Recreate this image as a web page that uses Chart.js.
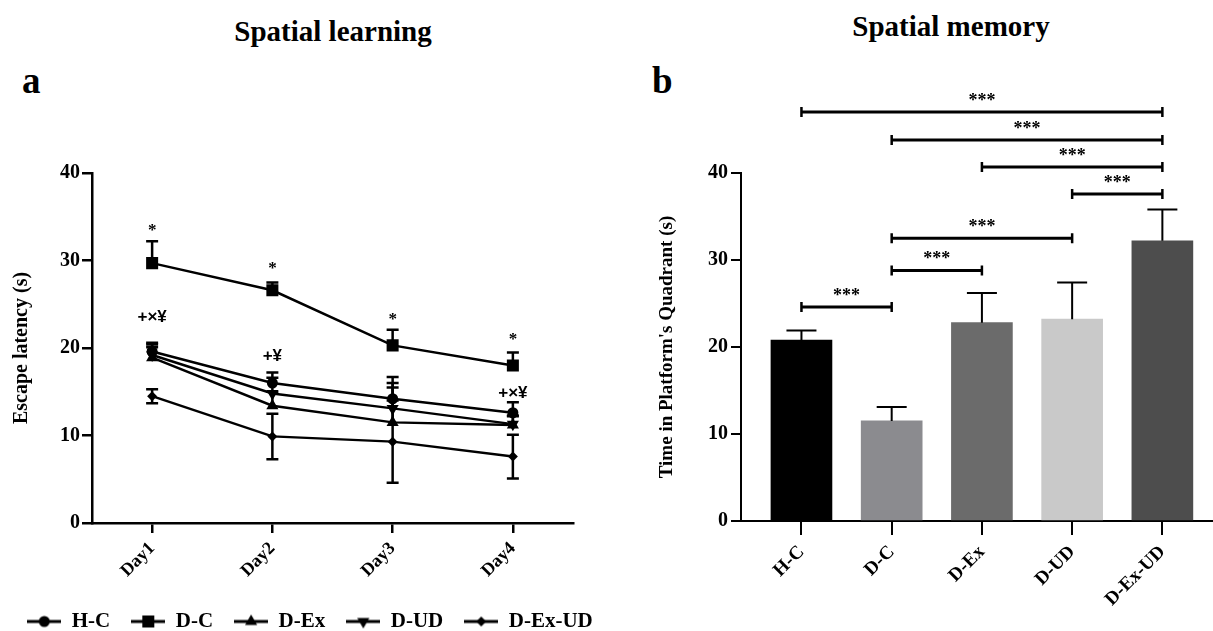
<!DOCTYPE html>
<html>
<head>
<meta charset="utf-8">
<script src="https://cdn.jsdelivr.net/npm/chart.js@4.4.1/dist/chart.umd.min.js"></script>
<style>
  html, body { margin: 0; padding: 0; background: #fff; overflow: hidden; width: 1213px; height: 631px; }
  #chartA { position: absolute; left: 0; top: 0; }
  #chartB { position: absolute; left: 640px; top: 0; }
  .lbl { position: absolute; font-family: "Liberation Serif", serif; font-weight: bold; color: #000; white-space: nowrap; line-height: 1; }
</style>
</head>
<body>
<div class="lbl" style="left:333px; top:17px; font-size:29px; transform:translateX(-50%);">Spatial learning</div>
<div class="lbl" style="left:22px; top:62px; font-size:37px;">a</div>
<div class="lbl" style="left:951px; top:12px; font-size:29px; transform:translateX(-50%);">Spatial memory</div>
<div class="lbl" style="left:652px; top:62px; font-size:37px;">b</div>
<canvas id="chartA" width="620" height="642"></canvas>
<canvas id="chartB" width="573" height="631"></canvas>
<script>
const days = ['Day1', 'Day2', 'Day3', 'Day4'];
const groups = ['H-C', 'D-C', 'D-Ex', 'D-UD', 'D-Ex-UD'];

// escape latency (s) per day
const latHC    = [19.6, 16.0, 14.2, 12.6];
const latDC    = [29.7, 26.6, 20.3, 18.0];
const latDEx   = [18.9, 13.4, 11.5, 11.2];
const latDUD   = [19.2, 14.8, 13.1, 11.3];
const latDExUD = [14.5, 9.9, 9.3, 7.6];

// error bars
const errHC    = [1.0, 1.2, 2.5, 1.2];
const errDC    = [2.5, 0.9, 1.8, 1.5];
const errDEx   = [1.2, 1.6, 4.5, 1.0];
const errDUD   = [1.2, 1.8, 2.4, 1.0];
const errDExUD = [0.8, 2.6, 4.7, 2.5];

// significance marks on the learning plot (text, and the value they sit at)
const dcMarks   = ['*', '*', '*', '*'];
const dcMarkAt  = [33.8, 29.5, 23.7, 21.4];
const grpMarks  = ['+×¥', '+¥', '', '+×¥'];
const grpMarkAt = [23.5, 19.1, null, 14.8];

// time in platform's quadrant (s)
const quadTime = [20.8, 11.5, 22.8, 23.2, 32.2];
const quadErr  = [1.1, 1.6, 3.4, 4.2, 3.6];

// pairwise comparisons on the memory plot
const sigPairs = [[0, 4], [1, 4], [2, 4], [3, 4], [1, 3], [1, 2], [0, 1]];
const sigLevel = [47.0, 43.8, 40.7, 37.6, 32.5, 28.8, 24.6];
const sigText  = ['***', '***', '***', '***', '***', '***', '***'];

const seriesVals = [latHC, latDC, latDEx, latDUD, latDExUD];
const seriesErr  = [errHC, errDC, errDEx, errDUD, errDExUD];
const bothSides  = [false, false, false, false, true];

const barColors = ['#000000', '#8b8b8f', '#6b6b6b', '#c9c9c9', '#4d4d4d'];
const markers = [
  { style: 'circle',   r: 5.5, rot: 0 },
  { style: 'rect',     r: 8.5, rot: 0 },
  { style: 'triangle', r: 7,   rot: 0 },
  { style: 'triangle', r: 7,   rot: 180 },
  { style: 'rectRot',  r: 5,   rot: 0 },
];

const serif = '"Liberation Serif", "Times New Roman", serif';
const boldFont = size => ({ family: serif, size: size, weight: 'bold' });

// little line+marker pictures for the legend
function legendIcon(m) {
  let c = document.createElement('canvas');
  c.width = 34; c.height = 18;
  let g = c.getContext('2d');
  g.strokeStyle = '#000'; g.fillStyle = '#000'; g.lineWidth = 3;
  g.beginPath(); g.moveTo(0, 9); g.lineTo(34, 9); g.stroke();
  g.translate(17, 9);
  g.rotate(m.rot * Math.PI / 180);
  g.beginPath();
  let r = m.r;
  if (m.style === 'circle') {
    g.arc(0, 0, r, 0, Math.PI * 2);
  } else if (m.style === 'rect') {
    let s = r * Math.SQRT1_2;
    g.rect(-s, -s, 2 * s, 2 * s);
  } else if (m.style === 'triangle') {
    g.moveTo(0, -r);
    g.lineTo(r * 0.866, r * 0.5);
    g.lineTo(-r * 0.866, r * 0.5);
    g.closePath();
  } else {
    g.moveTo(0, -r); g.lineTo(r, 0); g.lineTo(0, r); g.lineTo(-r, 0); g.closePath();
  }
  g.fill();
  return c;
}
const icons = markers.map(legendIcon);

const lineExtras = {
  id: 'lineExtras',
  afterDatasetsDraw(chart) {
    const { ctx } = chart;
    const x = chart.scales.x, y = chart.scales.y;
    ctx.save();
    ctx.strokeStyle = '#000';
    ctx.lineWidth = 2.5;
    chart.data.datasets.forEach((ds, di) => {
      let meta = chart.getDatasetMeta(di);
      meta.data.forEach((pt, i) => {
        let v = ds.data[i], e = seriesErr[di][i];
        let top = y.getPixelForValue(v + e);
        let bot = bothSides[di] ? y.getPixelForValue(v - e) : pt.y;
        ctx.beginPath();
        ctx.moveTo(pt.x, bot); ctx.lineTo(pt.x, top);
        ctx.moveTo(pt.x - 6, top); ctx.lineTo(pt.x + 6, top);
        if (bothSides[di]) { ctx.moveTo(pt.x - 6, bot); ctx.lineTo(pt.x + 6, bot); }
        ctx.stroke();
      });
    });
    ctx.fillStyle = '#000';
    ctx.textAlign = 'center';
    days.forEach((d, i) => {
      let px = x.getPixelForValue(i);
      if (dcMarks[i]) {
        ctx.font = 'bold 17px ' + serif;
        ctx.textBaseline = 'alphabetic';
        ctx.fillText(dcMarks[i], px, y.getPixelForValue(dcMarkAt[i]) + 8);
      }
      if (grpMarks[i]) {
        ctx.font = 'bold 17px "Liberation Sans", Arial, sans-serif';
        ctx.textBaseline = 'middle';
        ctx.fillText(grpMarks[i], px, y.getPixelForValue(grpMarkAt[i]));
      }
    });
    ctx.restore();
  }
};

const barExtras = {
  id: 'barExtras',
  afterDatasetsDraw(chart) {
    const { ctx } = chart;
    const x = chart.scales.x, y = chart.scales.y;
    ctx.save();
    ctx.strokeStyle = '#000';
    // error bars, upper side only
    ctx.lineWidth = 2;
    quadTime.forEach((v, i) => {
      let px = x.getPixelForValue(i);
      let top = y.getPixelForValue(v + quadErr[i]);
      ctx.beginPath();
      ctx.moveTo(px, y.getPixelForValue(v)); ctx.lineTo(px, top);
      ctx.moveTo(px - 15, top); ctx.lineTo(px + 15, top);
      ctx.stroke();
    });
    // comparison brackets
    ctx.fillStyle = '#000';
    ctx.textAlign = 'center';
    ctx.textBaseline = 'alphabetic';
    ctx.font = 'bold 18px ' + serif;
    sigPairs.forEach((p, k) => {
      let x1 = x.getPixelForValue(p[0]), x2 = x.getPixelForValue(p[1]);
      let py = y.getPixelForValue(sigLevel[k]);
      ctx.lineWidth = 3;
      ctx.beginPath(); ctx.moveTo(x1, py); ctx.lineTo(x2, py); ctx.stroke();
      ctx.lineWidth = 2.5;
      ctx.beginPath();
      ctx.moveTo(x1, py - 5); ctx.lineTo(x1, py + 5);
      ctx.moveTo(x2, py - 5); ctx.lineTo(x2, py + 5);
      ctx.stroke();
      ctx.fillText(sigText[k], (x1 + x2) / 2, py - 6);
    });
    ctx.restore();
  }
};

new Chart(document.getElementById('chartA'), {
  type: 'line',
  data: {
    labels: days,
    datasets: groups.map((g, i) => ({
      label: g,
      data: seriesVals[i],
      borderColor: '#000',
      borderWidth: 2.5,
      pointStyle: markers[i].style,
      pointRadius: markers[i].r,
      pointRotation: markers[i].rot,
      pointBackgroundColor: '#000',
      pointBorderColor: '#000',
      pointBorderWidth: 0,
      tension: 0,
    })),
  },
  options: {
    responsive: false,
    animation: false,
    layout: { padding: { left: 0, right: 0, top: 173, bottom: 0 } },
    plugins: {
      tooltip: { enabled: false },
      legend: {
        position: 'bottom',
        labels: {
          usePointStyle: true,
          pointStyleWidth: 34,
          padding: 21,
          color: '#000',
          font: boldFont(21),
          generateLabels: chart => Chart.defaults.plugins.legend.labels.generateLabels(chart)
            .map((it, i) => Object.assign(it, { pointStyle: icons[i], rotation: 0 })),
        },
      },
    },
    scales: {
      x: {
        offset: true,
        grid: { offset: false, drawOnChartArea: false, color: '#000', lineWidth: 2.5, tickLength: 10 },
        border: { color: '#000', width: 2.5 },
        ticks: { color: '#000', minRotation: 45, maxRotation: 45, font: boldFont(18), padding: 5 },
        afterFit: s => { s.height = 67; },
      },
      y: {
        min: 0,
        max: 40,
        ticks: { stepSize: 10, color: '#000', font: boldFont(20), padding: 2 },
        grid: { drawOnChartArea: false, color: '#000', lineWidth: 2.5, tickLength: 10 },
        border: { color: '#000', width: 2.5 },
        title: { display: true, text: 'Escape latency (s)', color: '#000', font: boldFont(20), padding: { top: 10, bottom: 0 } },
        afterFit: s => { s.width = 92; },
      },
      // empty right-hand spacer so the plot ends where the reference ends
      spacer: {
        type: 'linear',
        position: 'right',
        min: 0,
        max: 1,
        ticks: { display: false },
        grid: { display: false },
        border: { display: false },
        afterFit: s => { s.width = 47; },
      },
    },
  },
  plugins: [lineExtras],
});

new Chart(document.getElementById('chartB'), {
  type: 'bar',
  data: {
    datasets: [{
      data: quadTime.map((v, i) => ({ x: i, y: v })),
      backgroundColor: barColors,
      borderWidth: 0,
      barThickness: 61,
    }],
  },
  options: {
    responsive: false,
    animation: false,
    layout: { padding: { left: 0, right: 1, top: 173, bottom: 0 } },
    plugins: { legend: { display: false }, tooltip: { enabled: false } },
    scales: {
      x: {
        type: 'linear',
        offset: false,
        min: -0.67,
        max: 4.55,
        afterBuildTicks: s => { s.ticks = groups.map((g, i) => ({ value: i })); },
        ticks: { callback: v => groups[v], autoSkip: false, color: '#000', minRotation: 45, maxRotation: 45, font: boldFont(19), padding: 6 },
        grid: { offset: false, drawOnChartArea: false, color: '#000', lineWidth: 2, tickLength: 14 },
        border: { color: '#000', width: 2 },
        afterFit: s => { s.height = 110; },
      },
      y: {
        min: 0,
        max: 40,
        ticks: { stepSize: 10, color: '#000', font: boldFont(20), padding: 3 },
        grid: { drawOnChartArea: false, color: '#000', lineWidth: 2, tickLength: 10 },
        border: { color: '#000', width: 2 },
        title: { display: true, text: "Time in Platform's Quadrant (s)", color: '#000', font: boldFont(19), padding: { top: 16, bottom: 0 } },
        afterFit: s => { s.width = 101; },
      },
    },
  },
  plugins: [barExtras],
});
</script>
</body>
</html>
